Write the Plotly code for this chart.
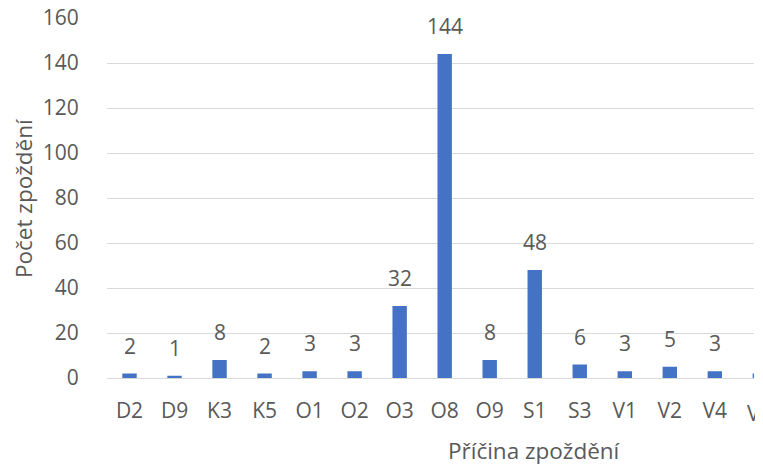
import plotly.graph_objects as go

categories = ["D2", "D9", "K3", "K5", "O1", "O2", "O3", "O8", "O9", "S1", "S3", "V1", "V2", "V4", "V5"]
counts = [2, 1, 8, 2, 3, 3, 32, 144, 8, 48, 6, 3, 5, 3, 2]
y_ticks = [0, 20, 40, 60, 80, 100, 120, 140, 160]

FONT = "Open Sans"
TXT = "#595959"
BLUE = "#4472C4"
GRID = "#D9D9D9"
TICK_SIZE = 21
TITLE_SIZE = 22.5

W, H = 755, 464
L, R, T, B = 107, 1, 18, 86
x_range = [-0.5, 13.87]

fig = go.Figure()
fig.add_trace(go.Bar(
    x=list(range(len(categories))),
    y=counts,
    marker=dict(color=BLUE, line=dict(width=0)),
    hoverinfo="x+y",
))

# data labels
for i, v in enumerate(counts):
    fig.add_annotation(x=i, y=v, xref="x", yref="y", text=str(v), showarrow=False,
                       yanchor="bottom", yshift=12,
                       font=dict(family=FONT, size=TICK_SIZE, color=TXT))

# partially visible last tick label (category beyond the cropped edge)
last = len(categories) - 1
fig.add_annotation(x=(last - x_range[0]) / (x_range[1] - x_range[0]), y=0,
                   xref="x domain", yref="paper", text=categories[last], showarrow=False,
                   xanchor="center", yanchor="top", yshift=-19,
                   font=dict(family=FONT, size=TICK_SIZE, color=TXT))

# axis titles
fig.add_annotation(x=(534.5 - L) / (W - L - R), y=-(450 - (H - B)) / (H - T - B),
                   xref="paper", yref="paper", text="Příčina zpoždění", showarrow=False,
                   xanchor="center", yanchor="middle",
                   font=dict(family=FONT, size=TITLE_SIZE, color=TXT))
fig.add_annotation(x=-(L - 23) / (W - L - R), y=0.5, xref="paper", yref="paper",
                   text="Počet zpoždění", showarrow=False, textangle=-90,
                   xanchor="center", yanchor="middle",
                   font=dict(family=FONT, size=TITLE_SIZE, color=TXT))

fig.update_layout(
    width=W, height=H,
    margin=dict(l=L, r=R, t=T, b=B, pad=0),
    paper_bgcolor="white", plot_bgcolor="white",
    bargap=0.68,
    showlegend=False,
    font=dict(family=FONT, size=TICK_SIZE, color=TXT),
)
fig.update_xaxes(
    range=x_range, tickmode="array",
    tickvals=list(range(len(categories))), ticktext=categories,
    showgrid=False, zeroline=False, showline=False,
    ticks="outside", ticklen=0, tickcolor="white",
    ticklabelstandoff=14,
    tickfont=dict(family=FONT, size=TICK_SIZE, color=TXT),
)
fig.update_yaxes(
    range=[0, 160], tickmode="array", tickvals=y_ticks,
    showgrid=True, gridcolor=GRID, gridwidth=1,
    zeroline=True, zerolinecolor=GRID, zerolinewidth=1,
    showline=False, ticks="outside", ticklen=0, tickcolor="white",
    ticklabelstandoff=23,
    tickfont=dict(family=FONT, size=TICK_SIZE, color=TXT),
)

fig.write_html("out.html",
               config={"displayModeBar": False},
               post_script="document.body.style.margin='0';"
                           "document.documentElement.style.overflow='hidden';"
                           "var d=document.querySelector('.plotly-graph-div');"
                           "if(d){d.style.overflow='hidden';}")
